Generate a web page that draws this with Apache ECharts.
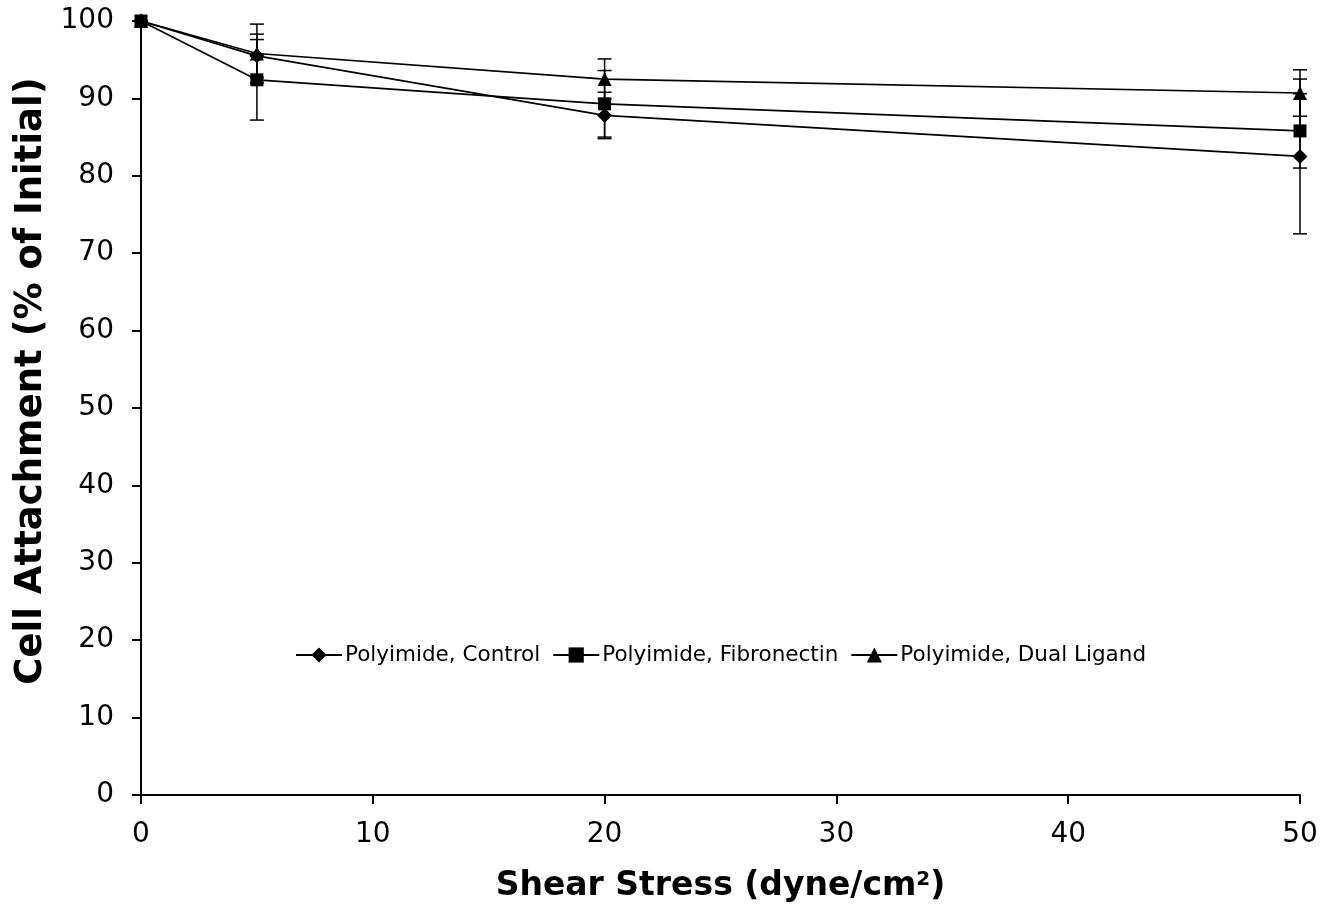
<!DOCTYPE html>
<html><head><meta charset="utf-8">
<script src="https://cdn.jsdelivr.net/npm/echarts@6/dist/echarts.min.js"></script>
<style>html,body{margin:0;padding:0;background:#fff}#c{width:1340px;height:918px}</style>
</head><body><div id="c"></div>
<script>
const xValues = [0, 5, 20, 50];
const seriesNames = ['Polyimide, Control', 'Polyimide, Fibronectin', 'Polyimide, Dual Ligand'];
const control = [100, 95.5, 87.8, 82.5];
const controlErr = [0, 2.8, 3.0, 10.0];
const fibronectin = [100, 92.4, 89.3, 85.8];
const fibronectinErr = [0, 5.2, 4.3, 4.8];
const dual = [100, 95.8, 92.5, 90.7];
const dualErr = [0, 3.8, 2.6, 3.0];
const yTicks = [0, 10, 20, 30, 40, 50, 60, 70, 80, 90, 100];
const xTicks = [0, 10, 20, 30, 40, 50];

const FONT = 'DejaVu Sans, Verdana, sans-serif';
const chart = echarts.init(document.getElementById('c'), null, {renderer: 'canvas'});

const values = [control, fibronectin, dual];
const errs = [controlErr, fibronectinErr, dualErr];
const symbols = ['diamond', 'rect', 'triangle'];
const sizes = [15, 13, 14];

const series = [];
values.forEach((vals, i) => {
  const errData = xValues.map((x, k) => [x, vals[k] - errs[i][k], vals[k] + errs[i][k]]).filter((d, k) => errs[i][k] > 0);
  series.push({
    type: 'custom',
    name: seriesNames[i] + ' err',
    data: errData,
    z: 1,
    silent: true,
    renderItem: function (params, api) {
      const x = api.value(0);
      const lo = api.coord([x, api.value(1)]);
      const hi = api.coord([x, api.value(2)]);
      const w = 7;
      const st = {stroke: '#000', lineWidth: 1.5};
      return {
        type: 'group',
        children: [
          {type: 'line', shape: {x1: lo[0], y1: lo[1], x2: hi[0], y2: hi[1]}, style: st},
          {type: 'line', shape: {x1: lo[0] - w, y1: lo[1], x2: lo[0] + w, y2: lo[1]}, style: st},
          {type: 'line', shape: {x1: hi[0] - w, y1: hi[1], x2: hi[0] + w, y2: hi[1]}, style: st}
        ]
      };
    }
  });
});
values.forEach((vals, i) => {
  series.push({
    type: 'line',
    name: seriesNames[i],
    data: xValues.map((x, k) => [x, vals[k]]),
    symbol: symbols[i],
    symbolSize: sizes[i],
    showAllSymbol: true,
    lineStyle: {color: '#000', width: 1.7},
    itemStyle: {color: '#000'},
    z: 3,
    animation: false
  });
});

chart.setOption({
  animation: false,
  backgroundColor: '#fff',
  grid: {left: 141, right: 40, top: 21, bottom: 123, containLabel: false},
  legend: {
    data: seriesNames,
    left: 290, top: 639,
    itemWidth: 46, itemHeight: 19, itemGap: 12,
    textStyle: {fontFamily: FONT, fontSize: 21.5, color: '#000', padding: [0, 0, 0, -2]},
    inactiveColor: '#000'
  },
  xAxis: {
    type: 'value', min: 0, max: 50, interval: 10,
    name: 'Shear Stress (dyne/cm{sup|2})',
    nameLocation: 'middle', nameGap: 75,
    nameTextStyle: {fontFamily: FONT, fontSize: 33, fontWeight: 'bold', color: '#000',
      rich: {sup: {fontFamily: FONT, fontSize: 20, fontWeight: 'bold', color: '#000', verticalAlign: 'top'}}},
    axisLine: {lineStyle: {color: '#000', width: 2}},
    axisTick: {show: true, length: 9, lineStyle: {color: '#000', width: 2}},
    axisLabel: {fontFamily: FONT, fontSize: 28, color: '#000', margin: 26,
      formatter: v => xTicks.includes(v) ? String(v) : ''},
    splitLine: {show: false}
  },
  yAxis: {
    type: 'value', min: 0, max: 100, interval: 10,
    name: 'Cell Attachment (% of Initial)',
    nameLocation: 'middle', nameGap: 91, nameRotate: 90,
    nameTextStyle: {fontFamily: FONT, fontSize: 37, fontWeight: 'bold', color: '#000', padding: [0, 0, 0, 54]},
    axisLine: {show: true, lineStyle: {color: '#000', width: 2}},
    axisTick: {show: true, length: 9, lineStyle: {color: '#000', width: 2}},
    axisLabel: {fontFamily: FONT, fontSize: 28, color: '#000', margin: 27,
      formatter: v => yTicks.includes(v) ? String(v) : ''},
    splitLine: {show: false}
  },
  series: series
});
</script>
</body></html>
